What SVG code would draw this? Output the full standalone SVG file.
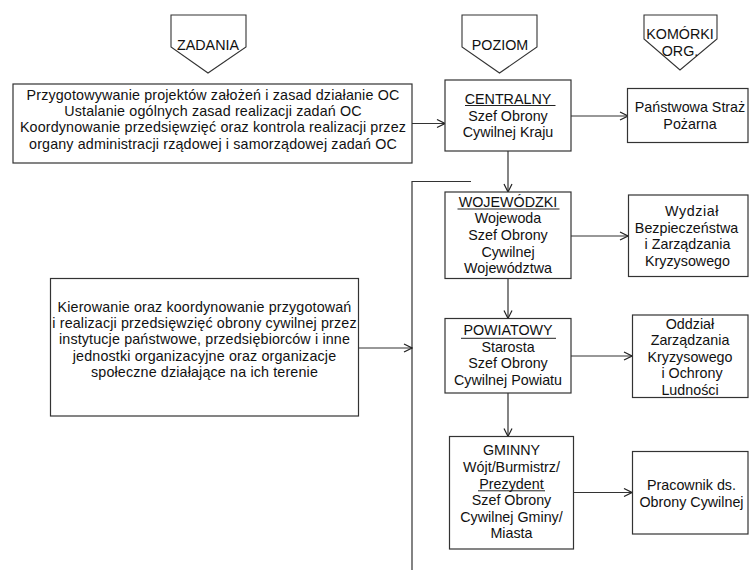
<svg xmlns="http://www.w3.org/2000/svg" width="749" height="570" viewBox="0 0 749 570">
  <style>
    .box { fill: #fff; stroke: #333; stroke-width: 1.2; }
    .tag { fill: #fff; stroke: #333; stroke-width: 1.1; }
    .ln { fill: none; stroke: #333; stroke-width: 1.2; }
    .ul { stroke: #222; stroke-width: 1; }
    text { font-family: "Liberation Sans", Arial, sans-serif; font-size: 14.3px; fill: #111; text-anchor: middle; }
    .task text { letter-spacing: 0.15px; }
  </style>
  <defs>
    <marker id="arr" markerWidth="10" markerHeight="10" refX="9" refY="5" orient="auto" markerUnits="userSpaceOnUse">
      <path d="M1,1 L9,5 L1,9" fill="none" stroke="#222" stroke-width="1.2"/>
    </marker>
  </defs>

  <rect width="749" height="570" fill="#fff"/>

  <!-- column headers -->
  <g id="hdr-zadania">
    <polygon class="tag" points="171,15 246,15 246,47 208,73 171,47"/>
    <text x="208" y="49.5">ZADANIA</text>
  </g>
  <g id="hdr-poziom">
    <polygon class="tag" points="462,15 537,15 537,47 499.5,73 462,47"/>
    <text x="500" y="49.5">POZIOM</text>
  </g>
  <g id="hdr-komorki">
    <polygon class="tag" points="644,15 717,15 717,39 680,70 644,39"/>
    <text x="680" y="38.5">KOMÓRKI</text>
    <text x="680" y="55.5">ORG.</text>
  </g>

  <!-- connectors -->
  <g id="connectors">
    <line class="ln" x1="412" y1="123.5" x2="445" y2="123.5" marker-end="url(#arr)"/>
    <line class="ln" x1="571" y1="116" x2="628" y2="116" marker-end="url(#arr)"/>
    <line class="ln" x1="508" y1="151" x2="508" y2="192" marker-end="url(#arr)"/>
    <line class="ln" x1="571" y1="236" x2="628" y2="236" marker-end="url(#arr)"/>
    <line class="ln" x1="508" y1="278.5" x2="508" y2="318.5" marker-end="url(#arr)"/>
    <line class="ln" x1="571" y1="356" x2="632" y2="356" marker-end="url(#arr)"/>
    <line class="ln" x1="508" y1="393" x2="508" y2="436.5" marker-end="url(#arr)"/>
    <line class="ln" x1="573.5" y1="492.5" x2="632" y2="492.5" marker-end="url(#arr)"/>
    <polyline class="ln" points="471,181.5 412,181.5 412,570"/>
    <line class="ln" x1="358.5" y1="348" x2="412" y2="348" marker-end="url(#arr)"/>
  </g>

  <!-- task boxes -->
  <g id="task-central" class="task">
    <rect class="box" x="13" y="84" width="399" height="79"/>
    <text x="213" y="99.5">Przygotowywanie projektów założeń i zasad działanie OC</text>
    <text x="213" y="115.9">Ustalanie ogólnych zasad realizacji zadań OC</text>
    <text x="213" y="132.3">Koordynowanie przedsięwzięć oraz kontrola realizacji przez</text>
    <text x="213" y="148.7">organy administracji rządowej i samorządowej zadań OC</text>
  </g>
  <g id="task-local" class="task">
    <rect class="box" x="50.5" y="278.5" width="308" height="137.5"/>
    <text x="204.5" y="311.5">Kierowanie oraz koordynowanie przygotowań</text>
    <text x="204.5" y="327.9">i realizacji przedsięwzięć obrony cywilnej przez</text>
    <text x="204.5" y="344.3">instytucje państwowe, przedsiębiorców i inne</text>
    <text x="204.5" y="360.7">jednostki organizacyjne oraz organizacje</text>
    <text x="204.5" y="377.1">społeczne działające na ich terenie</text>
  </g>

  <!-- levels -->
  <g id="lvl-centralny">
    <rect class="box" x="445" y="80" width="126" height="71"/>
    <text x="508" y="104">CENTRALNY</text>
    <line class="ul" x1="465" y1="105.5" x2="555.5" y2="105.5"/>
    <text x="508" y="120.5">Szef Obrony</text>
    <text x="508" y="137">Cywilnej Kraju</text>
  </g>
  <g id="lvl-wojewodzki">
    <rect class="box" x="445" y="192" width="126" height="86.5"/>
    <text x="508" y="206.7">WOJEWÓDZKI</text>
    <line class="ul" x1="457.5" y1="209" x2="559.5" y2="209"/>
    <text x="508" y="223.3">Wojewoda</text>
    <text x="508" y="240">Szef Obrony</text>
    <text x="508" y="256.6">Cywilnej</text>
    <text x="508" y="273.2">Województwa</text>
  </g>
  <g id="lvl-powiatowy">
    <rect class="box" x="445" y="318.5" width="126" height="74.5"/>
    <text x="508" y="335">POWIATOWY</text>
    <line class="ul" x1="461" y1="338.3" x2="556" y2="338.3"/>
    <text x="508" y="351.6">Starosta</text>
    <text x="508" y="368.2">Szef Obrony</text>
    <text x="508" y="384.8">Cywilnej Powiatu</text>
  </g>
  <g id="lvl-gminny">
    <rect class="box" x="449.5" y="436.5" width="124" height="112.5"/>
    <text x="511.5" y="455.3">GMINNY</text>
    <text x="511.5" y="472">Wójt/Burmistrz/</text>
    <text x="511.5" y="488.6">Prezydent</text>
    <line class="ul" x1="478" y1="490.8" x2="545" y2="490.8"/>
    <text x="511.5" y="505.2">Szef Obrony</text>
    <text x="511.5" y="521.8">Cywilnej Gminy/</text>
    <text x="511.5" y="538.4">Miasta</text>
  </g>

  <!-- organisational units -->
  <g id="unit-psp">
    <rect class="box" x="627.5" y="88.5" width="120.5" height="54"/>
    <text x="690" y="112">Państwowa Straż</text>
    <text x="690" y="128.5">Pożarna</text>
  </g>
  <g id="unit-wbzk">
    <rect class="box" x="628.5" y="195" width="119.5" height="81.5"/>
    <text x="692" y="215.8" letter-spacing="0.6">Wydział</text>
    <text x="686.5" y="232.5">Bezpieczeństwa</text>
    <text x="687.5" y="249.2">i Zarządzania</text>
    <text x="687.5" y="265.9">Kryzysowego</text>
  </g>
  <g id="unit-ozk">
    <rect class="box" x="632.5" y="315" width="115.5" height="82.5"/>
    <text x="690" y="328.5">Oddział</text>
    <text x="690" y="345.1">Zarządzania</text>
    <text x="690" y="361.7">Kryzysowego</text>
    <text x="692" y="378.3">i Ochrony</text>
    <text x="690" y="394.9">Ludności</text>
  </g>
  <g id="unit-pracownik">
    <rect class="box" x="632.5" y="451.5" width="115.5" height="82.5"/>
    <text x="691.5" y="490">Pracownik ds.</text>
    <text x="691.5" y="506.5">Obrony Cywilnej</text>
  </g>
</svg>
